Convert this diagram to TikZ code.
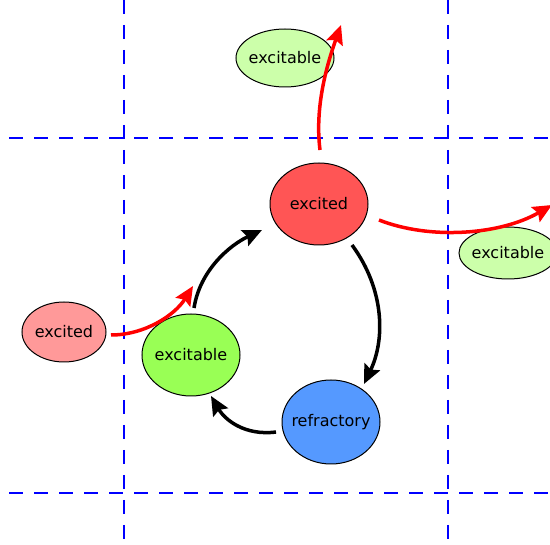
\documentclass[tikz,border=0pt]{standalone}
\usepackage{fontspec}
\setmainfont{DejaVu Sans}
\usetikzlibrary{arrows.meta,shapes.geometric}
\definecolor{exc}{HTML}{FF5555}
\definecolor{excl}{HTML}{FF9999}
\definecolor{able}{HTML}{99FF55}
\definecolor{ablel}{HTML}{CCFFAA}
\definecolor{refr}{HTML}{5599FF}
\newcommand{\celltext}[1]{\makebox[0pt]{#1}}
\begin{document}
\begin{tikzpicture}[x=1pt,y=-1pt,
  cell/.style={ellipse,draw=black,line width=1pt,inner sep=0pt,font=\fontsize{16}{19}\selectfont},
  grid/.style={blue,line width=1.5pt,dash pattern=on 14pt off 11pt},
  blk/.style={line width=3.5pt,-{Stealth[length=19pt,width=17pt,inset=3pt]}},
  redarr/.style={red,line width=3.5pt,-{Stealth[length=19pt,width=17pt,inset=3pt]}}]
\clip (0,0) rectangle (550,545);
\draw[grid] (124,0) -- (124,545);
\draw[grid] (448,0) -- (448,545);
\draw[grid] (9,138) -- (550,138);
\draw[grid] (9,493) -- (550,493);
\node[cell,fill=exc,minimum width=98pt,minimum height=82pt] (ex) at (319,204) {\celltext{excited}};
\node[cell,fill=able,minimum width=98pt,minimum height=82pt] (ab) at (191,355) {\celltext{excitable}};
\node[cell,fill=refr,minimum width=98pt,minimum height=84pt] (rf) at (331,422) {\celltext{refractory}};
\node[cell,fill=excl,minimum width=84pt,minimum height=60pt] (exl) at (64,332) {\celltext{excited}};
\node[cell,fill=ablel,minimum width=98pt,minimum height=58pt] (abt) at (285,58) {\celltext{excitable}};
\node[cell,fill=ablel,minimum width=98pt,minimum height=52pt] (abr) at (508,253) {\celltext{excitable}};
\coordinate (a1) at (194,308); \coordinate (b1) at (262,230);
\coordinate (a2) at (352,245); \coordinate (b2) at (364,384);
\coordinate (a3) at (276,432); \coordinate (b3) at (211,396);
\coordinate (r1a) at (111,335); \coordinate (r1b) at (193,286);
\coordinate (r2a) at (320,150); \coordinate (r2b) at (341,25);
\coordinate (r3a) at (379,220); \coordinate (r3b) at (552,205);
\draw[blk] (a1) .. controls (200,270) and (230,245) .. (b1);
\draw[blk] (a2) .. controls (385,290) and (385,340) .. (b2);
\draw[blk] (a3) .. controls (245,436) and (225,420) .. (b3);
\draw[redarr] (r1a) .. controls (145,335) and (175,315) .. (r1b);
\draw[redarr] (r2a) .. controls (315,110) and (325,70) .. (r2b);
\draw[redarr] (r3a) .. controls (430,240) and (500,235) .. (r3b);
\end{tikzpicture}
\end{document}
